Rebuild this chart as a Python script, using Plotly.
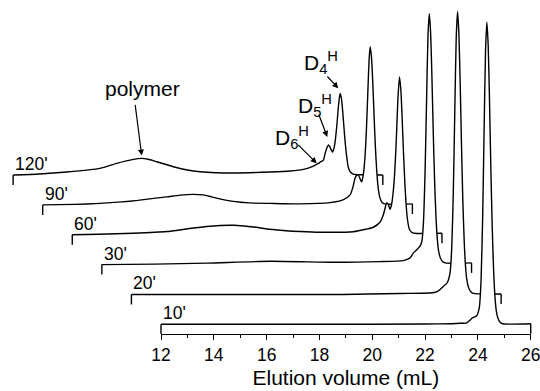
import plotly.graph_objects as go

# ---------------- data ----------------
LABELS = ["10'", "20'", "30'", "60'", "90'", "120'"]

# elution volume (mL) / detector signal (arb. units) for each reaction time
V10 = [12.0, 18.0, 22.0, 23.0, 23.3, 23.58, 23.7, 23.77, 23.88, 23.96, 24.00, 24.06, 24.12, 24.18,
       24.24, 24.29, 24.34, 24.39, 24.44, 24.49, 24.54, 24.59, 24.64, 24.69, 24.76, 24.84, 24.94, 26.0]
S10 = [0, 0, 0.3, 0.6, 1, 1.5, 4, 6, 7.5, 8.5, 11, 18, 44, 106,
       201, 274, 302, 279, 224, 157, 100, 58, 30, 15, 6, 2, 0.5, 0.5]

V20 = [12.0, 20.0, 22.17, 23.3, 23.56, 23.69, 23.81, 23.94, 24.01, 24.07, 24.13, 24.19, 24.25,
       24.30, 24.35, 24.40, 24.45, 24.50, 24.55, 24.60, 24.65, 24.70, 24.77, 24.85, 24.95, 26.0]
S20 = [0, 0, 1, 1.5, 2.6, 5, 8, 11, 15, 22.5, 47, 103, 190,
       257, 283, 261, 211, 149, 94, 55, 29, 15, 6.6, 2.7, 1, 0.5]

V30 = [12.0, 14.0, 16.0, 18.37, 20.9, 22.5, 23.42, 23.67, 23.80, 23.93, 24.00, 24.06, 24.12, 24.18,
       24.24, 24.30, 24.35, 24.40, 24.45, 24.50, 24.55, 24.60, 24.65, 24.70, 24.75, 24.82, 24.90,
       25.0, 26.0]
S30 = [0, 0.5, 1.5, 3.3, 2.3, 3, 4, 6.7, 11.7, 15, 17, 19, 23.5, 43,
       92.5, 168.5, 229, 251, 232, 187, 132, 84.5, 49.5, 26.7, 14, 6.7, 3.2,
       1.7, 1.7]

V60 = [12.0, 13.0, 14.31, 15.58, 16.33, 17.09, 17.6, 18.10, 18.5, 18.86, 19.49, 20.1, 20.63,
       21.38, 22.64, 23.15, 23.40, 23.65, 23.78, 23.84, 23.91, 23.97, 24.03, 24.09, 24.15, 24.21,
       24.27, 24.33, 24.39, 24.44, 24.49, 24.54, 24.59, 24.64, 24.69, 24.76, 24.85, 24.95, 26.0]
S60 = [0, 0.5, 1.5, 3.2, 5.8, 8.3, 9.3, 9.5, 8.8, 7.8, 5.5, 4, 3.2,
       2.5, 3, 5.7, 7.5, 12.5, 20, 26, 32, 30, 25.5, 30, 42, 62,
       95, 135, 157.7, 146, 118, 84, 54, 31, 16, 6, 2.5, 1.5, 1.5]

V90 = [12.0, 13.2, 14.17, 15.0, 15.6, 16.2, 16.7, 17.2, 17.7, 18.08, 18.4, 18.7, 19.22, 19.8,
       20.6, 21.74, 22.88, 23.37, 23.64, 23.75, 23.83, 23.89, 23.95, 24.02, 24.08, 24.14, 24.20,
       24.26, 24.32, 24.36, 24.40, 24.45, 24.50, 24.55, 24.60, 24.65, 24.70, 24.77, 24.85, 24.96,
       26.0]
S90 = [0, 0.5, 1.5, 3, 4.5, 6.5, 8, 9.8, 10.5, 10, 8, 6, 3.5, 2,
       1.5, 1, 2.3, 5, 10, 18, 27, 29.5, 30, 26, 23, 30, 46,
       76, 118, 145, 158.3, 148, 122, 88, 57, 34, 18, 7, 2.5, 1,
       1]

V120 = [12.0, 13.0, 14.03, 15.29, 15.92, 16.55, 16.87, 17.15, 17.44, 18.07, 18.6, 19.08, 20.34,
        21.73, 22.5, 22.99, 23.37, 23.56, 23.65, 23.75, 23.81, 23.88, 23.94, 23.99, 24.04, 24.10,
        24.16, 24.21, 24.26, 24.32, 24.38, 24.43, 24.48, 24.53, 24.58, 24.63, 24.69, 24.76, 24.88,
        25.2, 26.0]
S120 = [0, 1, 3, 6.7, 11.7, 15.7, 16.7, 15.5, 13.3, 8.3, 5, 3.3, 2,
        3, 4, 5.7, 9, 11.7, 13.3, 15, 21, 27, 30, 28.5, 25.5, 23,
        28, 37, 50, 69, 81.7, 77, 64, 47, 31, 19, 8, 3.5, 1,
        0.3, 0]

X_TICKS = [12, 14, 16, 18, 20, 22, 24, 26]
X_MINOR = [13, 15, 17, 19, 21, 23, 25]

VOLS = [V10, V20, V30, V60, V90, V120]
SIGS = [S10, S20, S30, S60, S90, S120]

# ---------------- presentation (waterfall offsets, geometry) ----------------
X_SHIFT = [0, -1.12, -2.24, -3.36, -4.48, -5.6]
Y_SHIFT = [9.7, 39.55, 69.4, 99.25, 129.1, 158.95]
BRACKET = 10
FONT = "Arial, Liberation Sans, sans-serif"
W, H = 540, 391
AX_Y_PX = 334
X0_PX, X1_PX = 161, 530.7
PX_PER_ML = (X1_PX - X0_PX) / 14.0
LW = 1.4


def xpx(p):
    return 12 + (p - X0_PX) / PX_PER_ML


def ypx(p):
    return AX_Y_PX - p


fig = go.Figure()
for i in reversed(range(len(VOLS))):
    xs = [v + X_SHIFT[i] for v in VOLS[i]]
    ys = [s + Y_SHIFT[i] for s in SIGS[i]]
    fig.add_trace(go.Scatter(
        x=xs, y=ys, mode="lines",
        line=dict(color="black", width=LW, shape="spline", smoothing=0.6),
        fill="tozeroy", fillcolor="white",
        hoverinfo="skip", showlegend=False))
    fig.add_trace(go.Scatter(
        x=[xs[0], xs[0], None, xs[-1], xs[-1]],
        y=[ys[0] - BRACKET, ys[0], None, ys[-1], ys[-1] - BRACKET],
        mode="lines", line=dict(color="black", width=LW),
        hoverinfo="skip", showlegend=False))

# invisible trace that carries the visible elution-volume axis
fig.add_trace(go.Scatter(x=[12, 26], y=[-50, -50], xaxis="x2", yaxis="y",
                         mode="markers", marker=dict(opacity=0),
                         hoverinfo="skip", showlegend=False))

annotations = []
for i, lab in enumerate(LABELS):
    annotations.append(dict(
        x=12 + X_SHIFT[i], y=Y_SHIFT[i] + 11, xref="x", yref="y",
        text=lab, showarrow=False, xanchor="left", yanchor="middle",
        font=dict(size=17.5, color="black", family=FONT)))

annotations.append(dict(x=xpx(142.5), y=ypx(88), xref="x", yref="y", text="polymer",
                        showarrow=False, xanchor="center", yanchor="middle",
                        font=dict(size=21, color="black", family=FONT)))

for txt, lx, ly in [("D<sub>4</sub><sup>H</sup>", 302, 62),
                    ("D<sub>5</sub><sup>H</sup>", 295.5, 105.5),
                    ("D<sub>6</sub><sup>H</sup>", 273, 137.5)]:
    annotations.append(dict(x=xpx(lx), y=ypx(ly), xref="x", yref="y", text=txt,
                            showarrow=False, xanchor="left", yanchor="middle",
                            font=dict(size=21, color="black", family=FONT)))

for (tx, ty, hx, hy) in [(135, 103.3, 141.7, 155.5),
                         (326, 75, 338.3, 88.3),
                         (318.3, 113.3, 327.3, 137),
                         (296.7, 143.3, 316.7, 163.3)]:
    annotations.append(dict(x=xpx(hx), y=ypx(hy), ax=xpx(tx), ay=ypx(ty),
                            xref="x", yref="y", axref="x", ayref="y",
                            text="", showarrow=True, arrowhead=2, arrowsize=1,
                            arrowwidth=1.2, arrowcolor="black", standoff=0))

fig.update_layout(
    template="none",
    width=W, height=H,
    margin=dict(l=0, r=0, t=0, b=H - AX_Y_PX, pad=0, autoexpand=False),
    paper_bgcolor="white", plot_bgcolor="rgba(0,0,0,0)",
    font=dict(family=FONT, color="black"),
    xaxis=dict(domain=[0, 1], range=[xpx(0), xpx(W)], visible=False,
               fixedrange=True, automargin=False),
    yaxis=dict(domain=[0, 1], range=[0, AX_Y_PX], visible=False,
               fixedrange=True, automargin=False),
    xaxis2=dict(domain=[X0_PX / W, X1_PX / W], range=[11.9999, 26.0001], anchor="y",
                automargin=False, ticklabeloverflow="allow",
                tickvals=X_TICKS, ticks="outside", ticklen=5, tickwidth=1.2,
                tickcolor="black", showline=True, linecolor="black", linewidth=LW,
                showgrid=False, zeroline=False,
                tickfont=dict(size=17.5, color="black", family=FONT),
                minor=dict(tickvals=X_MINOR, ticks="outside",
                           ticklen=3, tickwidth=1.2, tickcolor="black", showgrid=False),
                title=dict(text="Elution volume (mL)", standoff=6,
                           font=dict(size=21, color="black", family=FONT))),
    annotations=annotations,
)

fig.write_html("out.html")
